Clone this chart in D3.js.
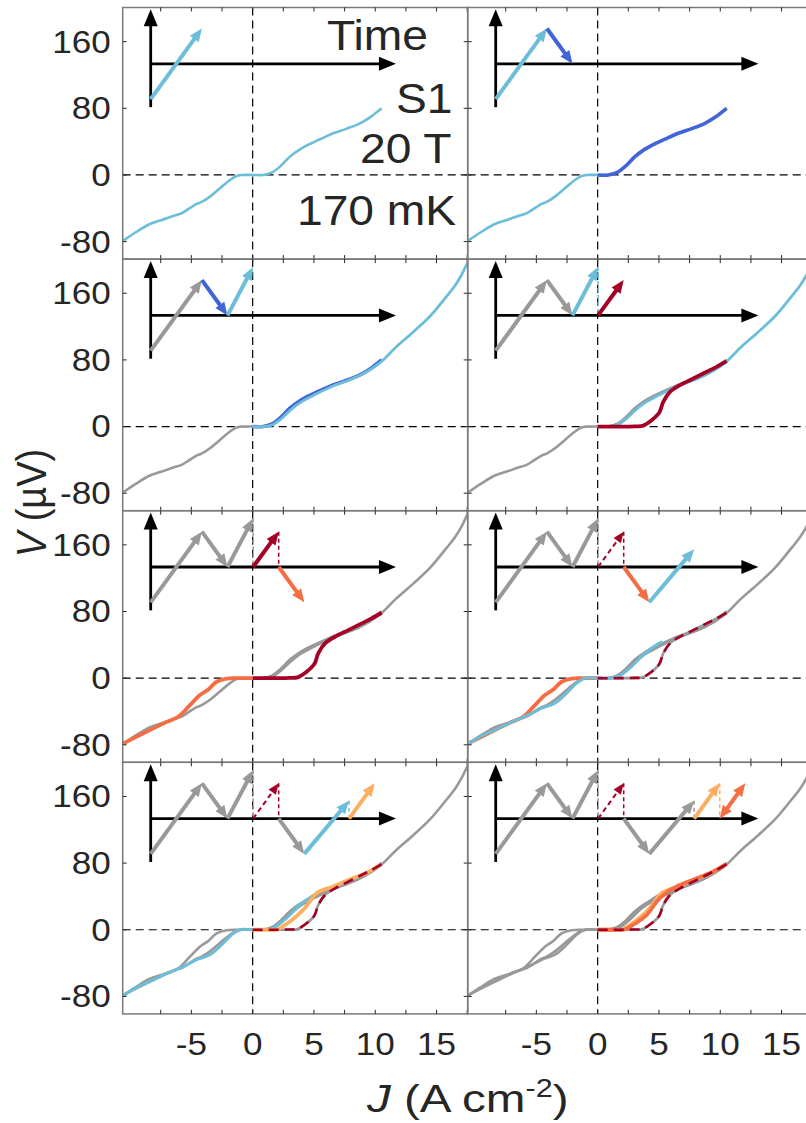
<!DOCTYPE html>
<html>
<head>
<meta charset="utf-8">
<script src="https://cdn.jsdelivr.net/npm/d3@7"></script>
<style>
  html, body { margin: 0; padding: 0; background: #fff; }
  svg { display: block; }
  text { font-family: "Liberation Sans", Arial, Helvetica, sans-serif; fill: #262626; }
</style>
</head>
<body>
<svg id="chart" width="806" height="1123"></svg>
<script>
// ---------------- data ----------------
// axis ticks
const jTicks = [-7.5, -5, -2.5, 0, 2.5, 5, 7.5, 10, 12.5, 15, 17.5];
const jTickLabels = [-5, 0, 5, 10, 15];
const vTicks = [-80, 0, 80, 160];

// V–J sweeps (J in A cm^-2, V in µV), in measurement order
const sweep1J = [-10.55, -9.5, -8.38, -7.4, -6.47, -5.79, -5.2, -4.57, -4.16, -3.48, -2.67, -1.85, -1.31, -0.9, 0, 0.87, 1.55, 2.23, 3.04, 3.86, 4.67, 5.49, 6.57, 7.67, 8.75, 9.57, 10.52];
const sweep1V = [-78.9, -68.5, -58.8, -54, -49.2, -46, -40.5, -34.8, -32.4, -26, -16, -6, -1.2, 0, 0, 0, 2.8, 10, 22, 30.8, 37.2, 42.8, 50, 55.6, 62, 69.2, 80];

const sweep2J = [10.52, 9.57, 8.75, 7.67, 6.57, 5.49, 4.67, 3.86, 3.04, 2.23, 1.55, 0.87, 0];
const sweep2V = [80, 69.2, 62, 55.6, 50, 43, 37.5, 31, 22, 10, 2.8, 0, 0];

const sweep3J = [0, 0.9, 1.6, 2.3, 3.1, 3.9, 4.7, 5.5, 6.6, 7.7, 8.8, 9.6, 10.5, 11.7, 13.1, 14.5, 15.8, 16.5, 17.0, 17.5];
const sweep3V = [0, 0, 2, 9, 20, 29, 35.5, 41.5, 49, 55, 62, 68.5, 78, 95.5, 113.5, 133, 156, 169, 181, 196];

const sweep4J = [0, 1.82, 3.0, 3.67, 4.4, 5.03, 5.35, 5.9, 6.71, 7.8, 8.89, 9.7, 10.52];
const sweep4V = [0, 0, 0.3, 1, 7.7, 16.9, 29.7, 41.7, 49.7, 57.7, 65.7, 71.7, 78.5];

const sweep5J = [0, -1.2, -2.12, -2.94, -3.62, -4.3, -5.11, -6.07, -7.0, -8.1, -9.19, -10.55];
const sweep5V = [0, 0, -0.5, -4.3, -13.5, -20.3, -32.3, -46.3, -52.5, -60.3, -68.3, -78.3];

const sweep6J = [-10.55, -9.5, -8.38, -7.3, -6.07, -5.2, -4.57, -3.48, -2.67, -1.71, -1.04, 0, 0.9, 1.68, 2.77, 3.86, 4.81, 5.3];
const sweep6V = [-78.8, -69.5, -62, -54.5, -46.8, -41, -36, -30, -20, -6, 0, 0, 0, 2, 14, 30, 40, 44];

const sweep7J = [0, 1.2, 1.96, 3.04, 4.0, 4.67, 5.22, 6.57, 8.2, 9.4, 10.38];
const sweep7V = [0, 0, 0, 10, 22, 34, 44, 52, 62, 69, 78];

const sweep8J = [0, 1.2, 2.09, 2.9, 4.0, 5.08, 6.44, 7.8, 9.43, 10.52];
const sweep8V = [0, 0, 0, 6, 18, 38, 52, 60, 70, 79];

const sweepJ = [sweep1J, sweep2J, sweep3J, sweep4J, sweep5J, sweep6J, sweep7J, sweep8J];
const sweepV = [sweep1V, sweep2V, sweep3V, sweep4V, sweep5V, sweep6V, sweep7V, sweep8V];

// time-history sketch: each sweep as start/end (time step, current)
const histT0 = [0, 2, 3, 4, 5, 6, 7.75, 8.75];
const histA0 = [-10.5, 10.5, 0, 0, 0, -10.5, 0, 0];
const histT1 = [2, 3, 4, 5, 6, 7.75, 8.75, 9.75];
const histA1 = [10.5, 0, 14.4, 10.5, -10.5, 5.3, 10.5, 10.5];
const histDoubleHead = [false, false, false, false, false, false, false, true];

// per-panel state of sweeps 1..8: c = highlighted, g = grey, d = dashed, - = absent
const panelStates = [
  "c-------", "cc------",
  "gcc-----", "ggcc----",
  "gggcc---", "gggdcc--",
  "gggdgcc-", "gggdggcc"
];

const sweepColors = ["#6cbed8", "#4164d8", "#6cbed8", "#a50026", "#f46d43", "#6cbed8", "#fdae61", "#f46d43"];
const sweepWidths = [2.6, 3.6, 2.8, 3.8, 3.8, 3.0, 3.8, 3.8];
const greyColor = "#999999";

const infoLines = ["S1", "20 T", "170 mK"];

// ---------------- layout ----------------
const svg = d3.select("#chart");
const panelW = 345, panelH = 251.6;
const colX = [122.7, 467.7];
const rowY = [7.5, 259.1, 510.7, 762.3];
const histAxisEnd = [9.58, 10.26];
const stretch = 1.1;

const x = d3.scaleLinear().domain([-10.6, 17.54]).range([0, panelW]);
const y = d3.scaleLinear().domain([-101, 201]).range([panelH, 0]);
const tS = d3.scaleLinear().domain([0, 1]).range([28, 53.6]);
const aS = d3.scaleLinear().domain([0, 10.5]).range([56.3, 21.0]);

const line = d3.line().x(d => x(d[0])).y(d => y(d[1])).curve(d3.curveCatmullRom.alpha(0.5));

function sText(g, px, py, str, size, anchor, sx) {
  return g.append("text")
    .attr("transform", `translate(${px},${py}) scale(${sx || stretch},1)`)
    .attr("text-anchor", anchor)
    .attr("font-size", size)
    .text(str);
}

function arrow(g, x0, y0, x1, y1, o) {
  const dx = x1 - x0, dy = y1 - y0, L = Math.hypot(dx, dy);
  const ux = dx / L, uy = dy / L;
  const hl = o.headLen, hw = o.headWidth / 2;
  const sx = o.both ? x0 + ux * hl * 0.7 : x0, sy = o.both ? y0 + uy * hl * 0.7 : y0;
  g.append("line")
    .attr("x1", sx).attr("y1", sy)
    .attr("x2", x1 - ux * hl * 0.7).attr("y2", y1 - uy * hl * 0.7)
    .attr("stroke", o.color).attr("stroke-width", o.width)
    .attr("stroke-dasharray", o.dash || null);
  const head = (tx, ty, vx, vy) => {
    const bx = tx - vx * hl, by = ty - vy * hl;
    g.append("path")
      .attr("d", `M${tx},${ty}L${bx + (-vy) * hw},${by + vx * hw}L${bx - (-vy) * hw},${by - vx * hw}Z`)
      .attr("fill", o.color);
  };
  head(x1, y1, ux, uy);
  if (o.both) head(x0, y0, -ux, -uy);
}

panelStates.forEach((state, p) => {
  const col = p % 2, row = Math.floor(p / 2);
  const g = svg.append("g").attr("transform", `translate(${colX[col]},${rowY[row]})`);

  // zero reference lines
  g.append("line").attr("x1", 0).attr("x2", panelW).attr("y1", y(0)).attr("y2", y(0))
    .attr("stroke", "#000").attr("stroke-width", 1.2).attr("stroke-dasharray", "8,5");
  g.append("line").attr("x1", x(0)).attr("x2", x(0)).attr("y1", 0).attr("y2", panelH)
    .attr("stroke", "#000").attr("stroke-width", 1.2).attr("stroke-dasharray", "8,5");

  // time-history sketch
  const ins = g.append("g");
  arrow(ins, tS(0), aS(-12.9), tS(0), aS(16.2), { color: "#000", width: 2.8, headLen: 17, headWidth: 14 });
  arrow(ins, tS(0), aS(0), tS(histAxisEnd[col]), aS(0), { color: "#000", width: 2.8, headLen: 17, headWidth: 14 });
  for (let k = 0; k < 8; k++) {
    const s = state[k];
    if (s === "-") continue;
    const c = s === "g" ? greyColor : sweepColors[k];
    if (s === "d") {
      arrow(ins, tS(histT0[k]), aS(histA0[k]), tS(histT1[k]), aS(histA1[k]),
        { color: c, width: 2, headLen: 11, headWidth: 9, dash: "5,3.5" });
    } else {
      arrow(ins, tS(histT0[k]), aS(histA0[k]), tS(histT1[k]), aS(histA1[k]),
        { color: c, width: 4, headLen: 13, headWidth: 11, both: histDoubleHead[k] });
    }
    // return to zero before the next sweep
    if (k < 7 && state[k + 1] !== "-" && (histT1[k] === histT0[k + 1]) && histA1[k] !== histA0[k + 1]) {
      ins.append("line")
        .attr("x1", tS(histT1[k])).attr("x2", tS(histT0[k + 1]))
        .attr("y1", aS(histA1[k])).attr("y2", aS(histA0[k + 1]))
        .attr("stroke", c).attr("stroke-width", 1.5).attr("stroke-dasharray", "4,3");
    }
  }

  // V–J curves: grey first (dashed sweeps get a grey base), then highlighted, dashes on top
  const pts = k => sweepJ[k].map((j, i) => [j, sweepV[k][i]]);
  const draw = (k, color, width, dash) =>
    g.append("path").attr("d", line(pts(k))).attr("fill", "none")
      .attr("stroke", color).attr("stroke-width", width)
      .attr("stroke-dasharray", dash).attr("stroke-linejoin", "round");
  for (let k = 0; k < 8; k++) if (state[k] === "g" || state[k] === "d") draw(k, greyColor, 2.6, null);
  for (let k = 0; k < 8; k++) if (state[k] === "c") draw(k, sweepColors[k], sweepWidths[k], null);
  for (let k = 0; k < 8; k++) if (state[k] === "d") draw(k, sweepColors[k], 2.6, "10,6");

  // frame and inward ticks
  g.append("rect").attr("width", panelW).attr("height", panelH)
    .attr("fill", "none").attr("stroke", "#7a7a7a").attr("stroke-width", 1.5);
  const tk = g.append("g").attr("stroke", "#262626").attr("stroke-width", 1);
  jTicks.forEach(j => {
    tk.append("line").attr("x1", x(j)).attr("x2", x(j)).attr("y1", panelH).attr("y2", panelH - 4);
    tk.append("line").attr("x1", x(j)).attr("x2", x(j)).attr("y1", 0).attr("y2", 4);
  });
  vTicks.forEach(v => {
    tk.append("line").attr("x1", 0).attr("x2", 4).attr("y1", y(v)).attr("y2", y(v));
    tk.append("line").attr("x1", panelW).attr("x2", panelW - 4).attr("y1", y(v)).attr("y2", y(v));
  });

  // tick labels
  if (col === 0) {
    vTicks.forEach(v => sText(g, -12, y(v) + 10.9, String(v), 30.5, "end", 1.15));
  }
  if (row === 3) {
    jTickLabels.forEach(j => sText(g, x(j), 1055 - rowY[row], String(j), 30.5, "middle", 1.15));
  }
});

// annotations in the first panel
sText(svg, 327, 50, "Time", 42, "start");
const infoX = [396, 360, 297], infoY = [113, 163, 225];
infoLines.forEach((t, i) => sText(svg, infoX[i], infoY[i], t, 42, "start"));

// axis titles
const xt = svg.append("text")
  .attr("transform", `translate(467.7,1112) scale(1.22,1)`)
  .attr("text-anchor", "middle").attr("font-size", 39);
xt.append("tspan").attr("font-style", "italic").text("J");
xt.append("tspan").text(" (A cm");
xt.append("tspan").attr("font-size", 25).attr("dy", -15).text("-2");
xt.append("tspan").attr("dy", 15).text(")");

const yt = svg.append("text")
  .attr("transform", `translate(46,503) scale(${stretch},1) rotate(-90)`)
  .attr("text-anchor", "middle").attr("font-size", 38);
yt.append("tspan").attr("font-style", "italic").text("V");
yt.append("tspan").text(" (µV)");
</script>
</body>
</html>
